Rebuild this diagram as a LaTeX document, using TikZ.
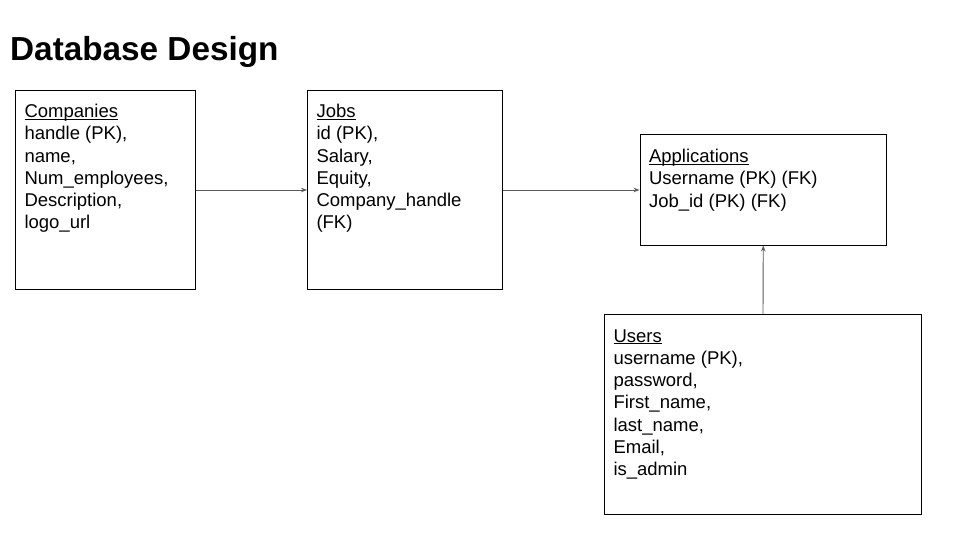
\documentclass[tikz,border=0pt]{standalone}
\usepackage{fontspec}
\setmainfont{Liberation Sans}
\usetikzlibrary{arrows.meta}

\begin{document}
\begin{tikzpicture}
  [x=1pt, y=-1pt,
   table node/.style={draw, line width=1pt, rectangle, anchor=north west,
     inner xsep=9pt, inner ysep=0pt,
     font=\fontsize{18.5}{22.3}\selectfont},
   link/.style={-{Stealth[length=6pt,width=4.5pt]}, draw=black!65, line width=0.9pt}]
  \useasboundingbox[fill=white] (0,0) rectangle (960,540);
  \node[anchor=base west, inner sep=0pt, font=\fontsize{33.3}{40}\selectfont\bfseries] (title) at (10,60.5) {Database Design};

  \node[table node] (comp) at (15,90) {\parbox[c][199pt][t]{162pt}{\rule{0pt}{27pt}\underline{\smash{Companies}}\\
    handle (PK),\\ name,\\ Num\_employees,\\ Description,\\ logo\_url}};
  \node[table node] (jobs) at (307,90) {\parbox[c][199pt][t]{177pt}{\rule{0pt}{27pt}\underline{\smash{Jobs}}\\
    id (PK),\\ Salary,\\ Equity,\\ Company\_handle\\ (FK)}};
  \node[table node] (apps) at (639.5,134.5) {\parbox[c][110pt][t]{228.5pt}{\rule{0pt}{27.5pt}\underline{\smash{Applications}}\\
    Username (PK) (FK)\\ Job\_id (PK) (FK)}};
  \node[table node] (users) at (604,314) {\parbox[c][200pt][t]{299pt}{\rule{0pt}{27.5pt}\underline{\smash{Users}}\\
    username (PK),\\ password,\\ First\_name,\\ last\_name,\\ Email,\\ is\_admin}};

  \path (comp.east) edge[link] (jobs.west);
  \path (jobs.east) edge[link] (apps.west);
  \path (users.north) edge[link] (apps.south);
\end{tikzpicture}
\end{document}
